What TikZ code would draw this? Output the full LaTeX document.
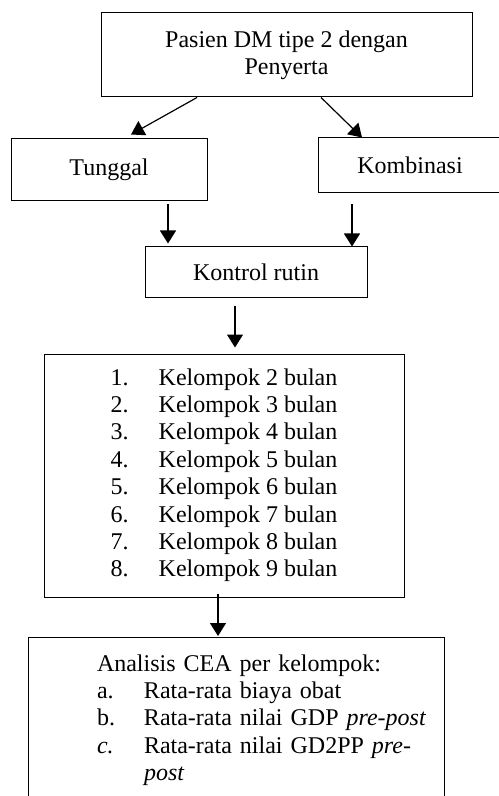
\documentclass[tikz,border=0pt]{standalone}
\usepackage{fontspec}
\setmainfont{Liberation Serif}
\usetikzlibrary{arrows.meta}
\tikzset{
  box/.style={draw=drawColor,line width=0.5pt,inner sep=0pt,font=\fontsize{12}{13.7}\selectfont},
  arr/.style={draw=drawColor,line width=0.6pt,-{Triangle[length=6.5pt,width=8pt]}}
}
\begin{document}
\begin{tikzpicture}[x=0.5pt,y=-0.5pt]
\definecolor{drawColor}{RGB}{0,0,0}
\path[use as bounding box] (0,0) rectangle (498,796);

\node[box,minimum width=185.5pt,minimum height=42pt,align=center] (pasien) at (286.5,55) {Pasien DM tipe 2 dengan\\Penyerta};

\node[box,minimum width=98pt,minimum height=31pt] (tunggal) at (109,170) {Tunggal};

\node[box,minimum width=92pt,minimum height=27.5pt] (kombinasi) at (410,165.5) {Kombinasi};

\node[box,minimum width=111pt,minimum height=25pt] (kontrol) at (256,272) {Kontrol rutin};

\node[box,minimum width=180pt,minimum height=121.5pt] (kelompok) at (224,475.5) {%
  \begin{tabular}{@{}p{24pt}@{}l@{}}
  1. & Kelompok 2 bulan\\
  2. & Kelompok 3 bulan\\
  3. & Kelompok 4 bulan\\
  4. & Kelompok 5 bulan\\
  5. & Kelompok 6 bulan\\
  6. & Kelompok 7 bulan\\
  7. & Kelompok 8 bulan\\
  8. & Kelompok 9 bulan
  \end{tabular}};

\node[box,anchor=north,text width=208pt,align=left,inner ysep=7.25pt] (analisis) at (236,637) {%
  \begin{tabular}{@{\hspace{34.5pt}}p{23.5pt}@{}l@{}}
  \multicolumn{2}{@{\hspace{34.5pt}}l@{}}{Analisis CEA per kelompok:}\\
  a. & Rata-rata biaya obat\\
  b. & Rata-rata nilai GDP \textit{pre-post}\\
  \textit{c.} & Rata-rata nilai GD2PP \textit{pre-}\\
     & \textit{post}
  \end{tabular}};

\draw[arr] ([xshift=-44.75pt]pasien.south) -- ([xshift=11pt,yshift=2pt]tunggal.north);
\draw[arr] ([xshift=17.25pt]pasien.south) -- ([xshift=-24pt]kombinasi.north);
\draw[arr] ([xshift=29.5pt,yshift=-1.5pt]tunggal.south) -- ([xshift=-44pt,yshift=1.5pt]kontrol.north);
\draw[arr] ([xshift=-29pt,yshift=-5.5pt]kombinasi.south) -- ([xshift=48pt]kontrol.north);
\draw[arr] ([xshift=-10.5pt,yshift=-4pt]kontrol.south) -- ([xshift=5.5pt,yshift=3pt]kelompok.north);
\draw[arr] ([xshift=-3pt,yshift=2pt]kelompok.south) -- ([xshift=-9pt,yshift=0.5pt]analisis.north);
\end{tikzpicture}
\end{document}
